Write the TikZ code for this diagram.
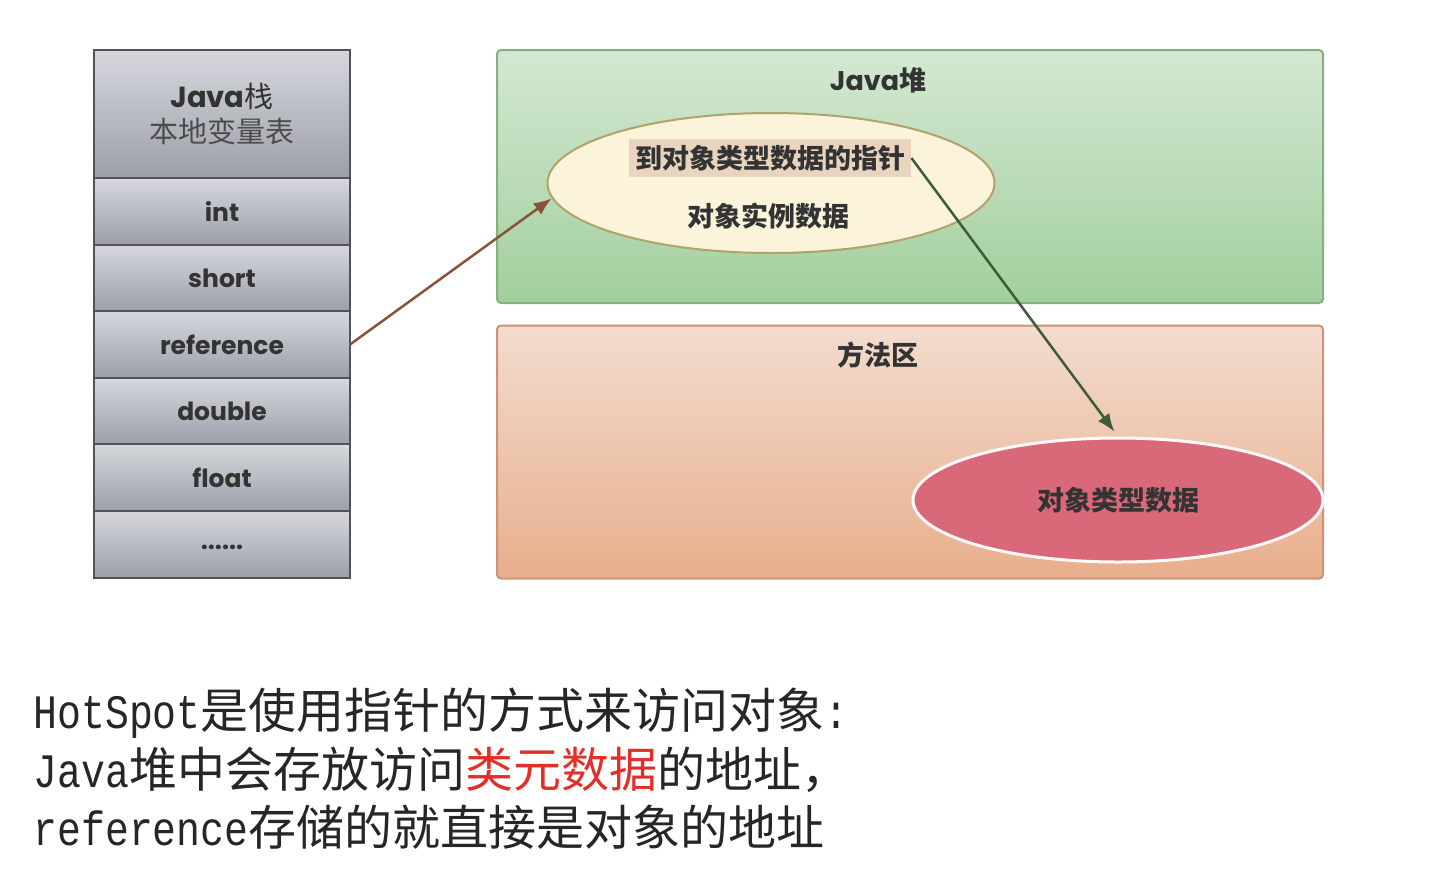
\documentclass[tikz,border=0pt]{standalone}
\usepackage{fontspec}
\usepackage{xcolor}
\usepackage{tikz}
\usetikzlibrary{
  arrows.meta,
  calc,
  shapes.geometric,
  positioning}
\newfontfamily\cjk{Noto Sans CJK SC}
\newfontfamily\geo{Poppins}
\newfontfamily\songlat[FakeStretch=0.83]{Liberation Mono}
\definecolor{cellTop}{HTML}{D6D8DE}
\definecolor{cellBot}{HTML}{9C9FA8}
\definecolor{cellLine}{HTML}{50535A}
\definecolor{heapTop}{HTML}{D4E8D2}
\definecolor{heapBot}{HTML}{A2CF9E}
\definecolor{heapLine}{HTML}{86B082}
\definecolor{methTop}{HTML}{F3DCCF}
\definecolor{methBot}{HTML}{E8AE8C}
\definecolor{methLine}{HTML}{C99479}
\definecolor{objFill}{HTML}{FBF3DA}
\definecolor{objLine}{HTML}{B0A36C}
\definecolor{ptrFill}{HTML}{E9D4C0}
\definecolor{klassFill}{HTML}{D96878}
\definecolor{refArrow}{HTML}{8A5238}
\definecolor{ptrArrow}{HTML}{3E5C38}
\definecolor{labelGray}{HTML}{333333}
\definecolor{noteRed}{HTML}{E0302A}
\tikzset{
  cell/.style={rectangle,draw=cellLine,line width=1pt,top color=cellTop,bottom color=cellBot,
    minimum width=128pt,minimum height=33.3pt,inner sep=0pt,outer sep=0pt,text=labelGray,
    font=\geo\bfseries\fontsize{12.5}{15}\selectfont},
  area/.style={rectangle,rounded corners=2pt,line width=1pt,minimum width=413pt,minimum height=126.5pt},
  title/.style={text=labelGray,font=\bfseries\fontsize{13.5}{16}\selectfont},
  inner/.style={text=labelGray,font=\cjk\bfseries\fontsize{13.5}{16}\selectfont},
  note/.style={anchor=west,inner sep=0pt,text=black!85,font=\fontsize{24}{28}\selectfont}
}
\begin{document}
\begin{tikzpicture}[x=0.5pt,y=-0.5pt,>={Latex[length=9pt,width=7pt]}]
        \useasboundingbox (0,0) rectangle (1450,874);
        % Stack
        \node(stack) at (222,114)[cell,minimum height=64pt,align=center,font=\fontsize{14.5}{17.5}\selectfont]
          {{\geo\bfseries Java}{\cjk 栈}\\{\cjk\color{black!70}本地变量表}};
        \node(int)[cell,below=0pt of stack] {int};
        \node(short)[cell,below=0pt of int] {short};
        \node(ref)[cell,below=0pt of short] {reference};
        \node(double)[cell,below=0pt of ref] {double};
        \node(float)[cell,below=0pt of double] {float};
        \node(dots)[cell,below=0pt of float] {\raisebox{-5pt}{......}};
        % Areas
        \node(heap) at (910,176.5)[area,draw=heapLine,top color=heapTop,bottom color=heapBot] {};
        \node(method) at (910,452)[area,draw=methLine,top color=methTop,bottom color=methBot] {};
        \node(heaplabel) at (878,80)[title] {{\geo Java}{\cjk 堆}};
        \node(methodlabel) at (878,355)[title] {\cjk 方法区};
        % Objects
        \node(obj) at (771,183)[ellipse,draw=objLine,line width=1pt,fill=objFill,minimum width=223.5pt,minimum height=70pt] {};
        \node(ptr) at (770,158)[inner,fill=ptrFill,inner sep=3pt] {到对象类型数据的指针};
        \node(inst) at (768,216)[inner] {对象实例数据};
        \node(klass) at (1118,500)[ellipse,draw=white!90!pink,line width=1.5pt,fill=klassFill,minimum width=205pt,minimum height=62pt,inner] {对象类型数据};
        % Links
        \draw[->,refArrow,line width=1.25pt] (ref.east) -- (obj.184);
        \draw[->,ptrArrow,line width=1.25pt,shorten >=3pt] (ptr.east) -- (klass.north);
        % Note
        \node(line1) at (33,713)[note] {{\songlat HotSpot}{\cjk 是使用指针的方式来访问对象}{\songlat :}};
        \node(line2) at (33,770)[note] {{\songlat Java}{\cjk 堆中会存放访问{\color{noteRed}类元数据}的地址，}};
        \node(line3) at (33,827)[note] {{\songlat reference}{\cjk 存储的就直接是对象的地址}};
    \end{tikzpicture}
\end{document}
